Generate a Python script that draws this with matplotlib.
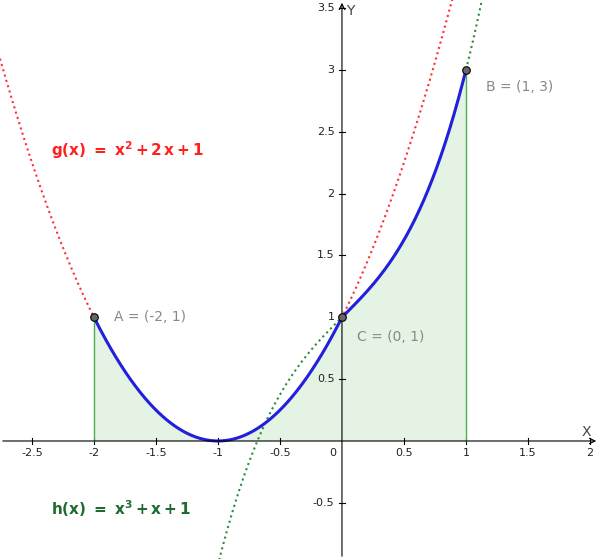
import matplotlib.pyplot as plt
import numpy as np

# view window (data units)
x_min, x_max = -2.758, 2.073
y_min, y_max = -0.954, 3.565

x_ticks = [-2.5, -2, -1.5, -1, -0.5, 0.5, 1, 1.5, 2]
y_ticks = [-0.5, 0.5, 1, 1.5, 2, 2.5, 3, 3.5]

pts_x = [-2, 1, 0]
pts_y = [1, 3, 1]
pts_lbl = ["A = (-2, 1)", "B = (1, 3)", "C = (0, 1)"]


def g(x):
    return x**2 + 2*x + 1


def h(x):
    return x**3 + x + 1


fig = plt.figure(figsize=(5.99, 5.59), dpi=100)
ax = fig.add_axes([0, 0, 1, 1])
ax.set_xlim(x_min, x_max)
ax.set_ylim(y_min, y_max)
for s in ax.spines.values():
    s.set_visible(False)
ax.set_xticks([])
ax.set_yticks([])

# axes with arrows
ax.annotate("", xy=(x_max, 0), xytext=(x_min, 0),
            arrowprops=dict(arrowstyle="->", color="black", lw=0.8))
ax.annotate("", xy=(0, y_max), xytext=(0, y_min),
            arrowprops=dict(arrowstyle="->", color="black", lw=0.8))
ax.text(x_max - 0.06, 0.02, "X", ha="right", va="bottom", fontsize=10, color="#444444")
ax.text(0.03, y_max - 0.03, "Y", ha="left", va="top", fontsize=10, color="#444444")

for t in x_ticks:
    ax.plot([t, t], [-0.025, 0.025], color="black", lw=0.8)
    ax.text(t, -0.06, f"{t:g}", ha="center", va="top", fontsize=8, color="#222222")
ax.text(-0.05, -0.06, "0", ha="right", va="top", fontsize=8, color="#222222")
for t in y_ticks:
    ax.plot([-0.025, 0.025], [t, t], color="black", lw=0.8)
    ax.text(-0.06, t, f"{t:g}", ha="right", va="center", fontsize=8, color="#222222")

# dotted full curves
xg = np.linspace(x_min, x_max, 600)
ax.plot(xg, g(xg), color="#ff3030", ls=":", lw=1.5)
ax.plot(xg, h(xg), color="#2e8b3e", ls=":", lw=1.5)

# piecewise blue curve and shaded area
x1 = np.linspace(-2, 0, 300)
x2 = np.linspace(0, 1, 200)
xb = np.concatenate([x1, x2])
yb = np.concatenate([g(x1), h(x2)])
ax.fill_between(xb, 0, yb, color="#4caf50", alpha=0.15, lw=0)
ax.plot([-2, -2], [0, g(-2)], color="#4caf50", lw=1)
ax.plot([1, 1], [0, h(1)], color="#4caf50", lw=1)
ax.plot(xb, yb, color="#2020dd", lw=2.2)

ax.scatter(pts_x, pts_y, s=30, color="#666666", edgecolor="black", lw=0.8, zorder=5)
offs = [(0.16, 0), (0.16, -0.14), (0.12, -0.16)]
for px, py, lbl, (dx, dy) in zip(pts_x, pts_y, pts_lbl, offs):
    ax.text(px + dx, py + dy, lbl, ha="left", va="center", fontsize=10, color="#888888")

ax.text(-2.35, 2.35, r"$\mathbf{g(x)\ =\ x^2 + 2\,x + 1}$", color="#ff2020",
        fontsize=11, ha="left", va="center")
ax.text(-2.35, -0.55, r"$\mathbf{h(x)\ =\ x^3 + x + 1}$", color="#1e6b30",
        fontsize=11, ha="left", va="center")

fig.savefig("out.png", dpi=100)
